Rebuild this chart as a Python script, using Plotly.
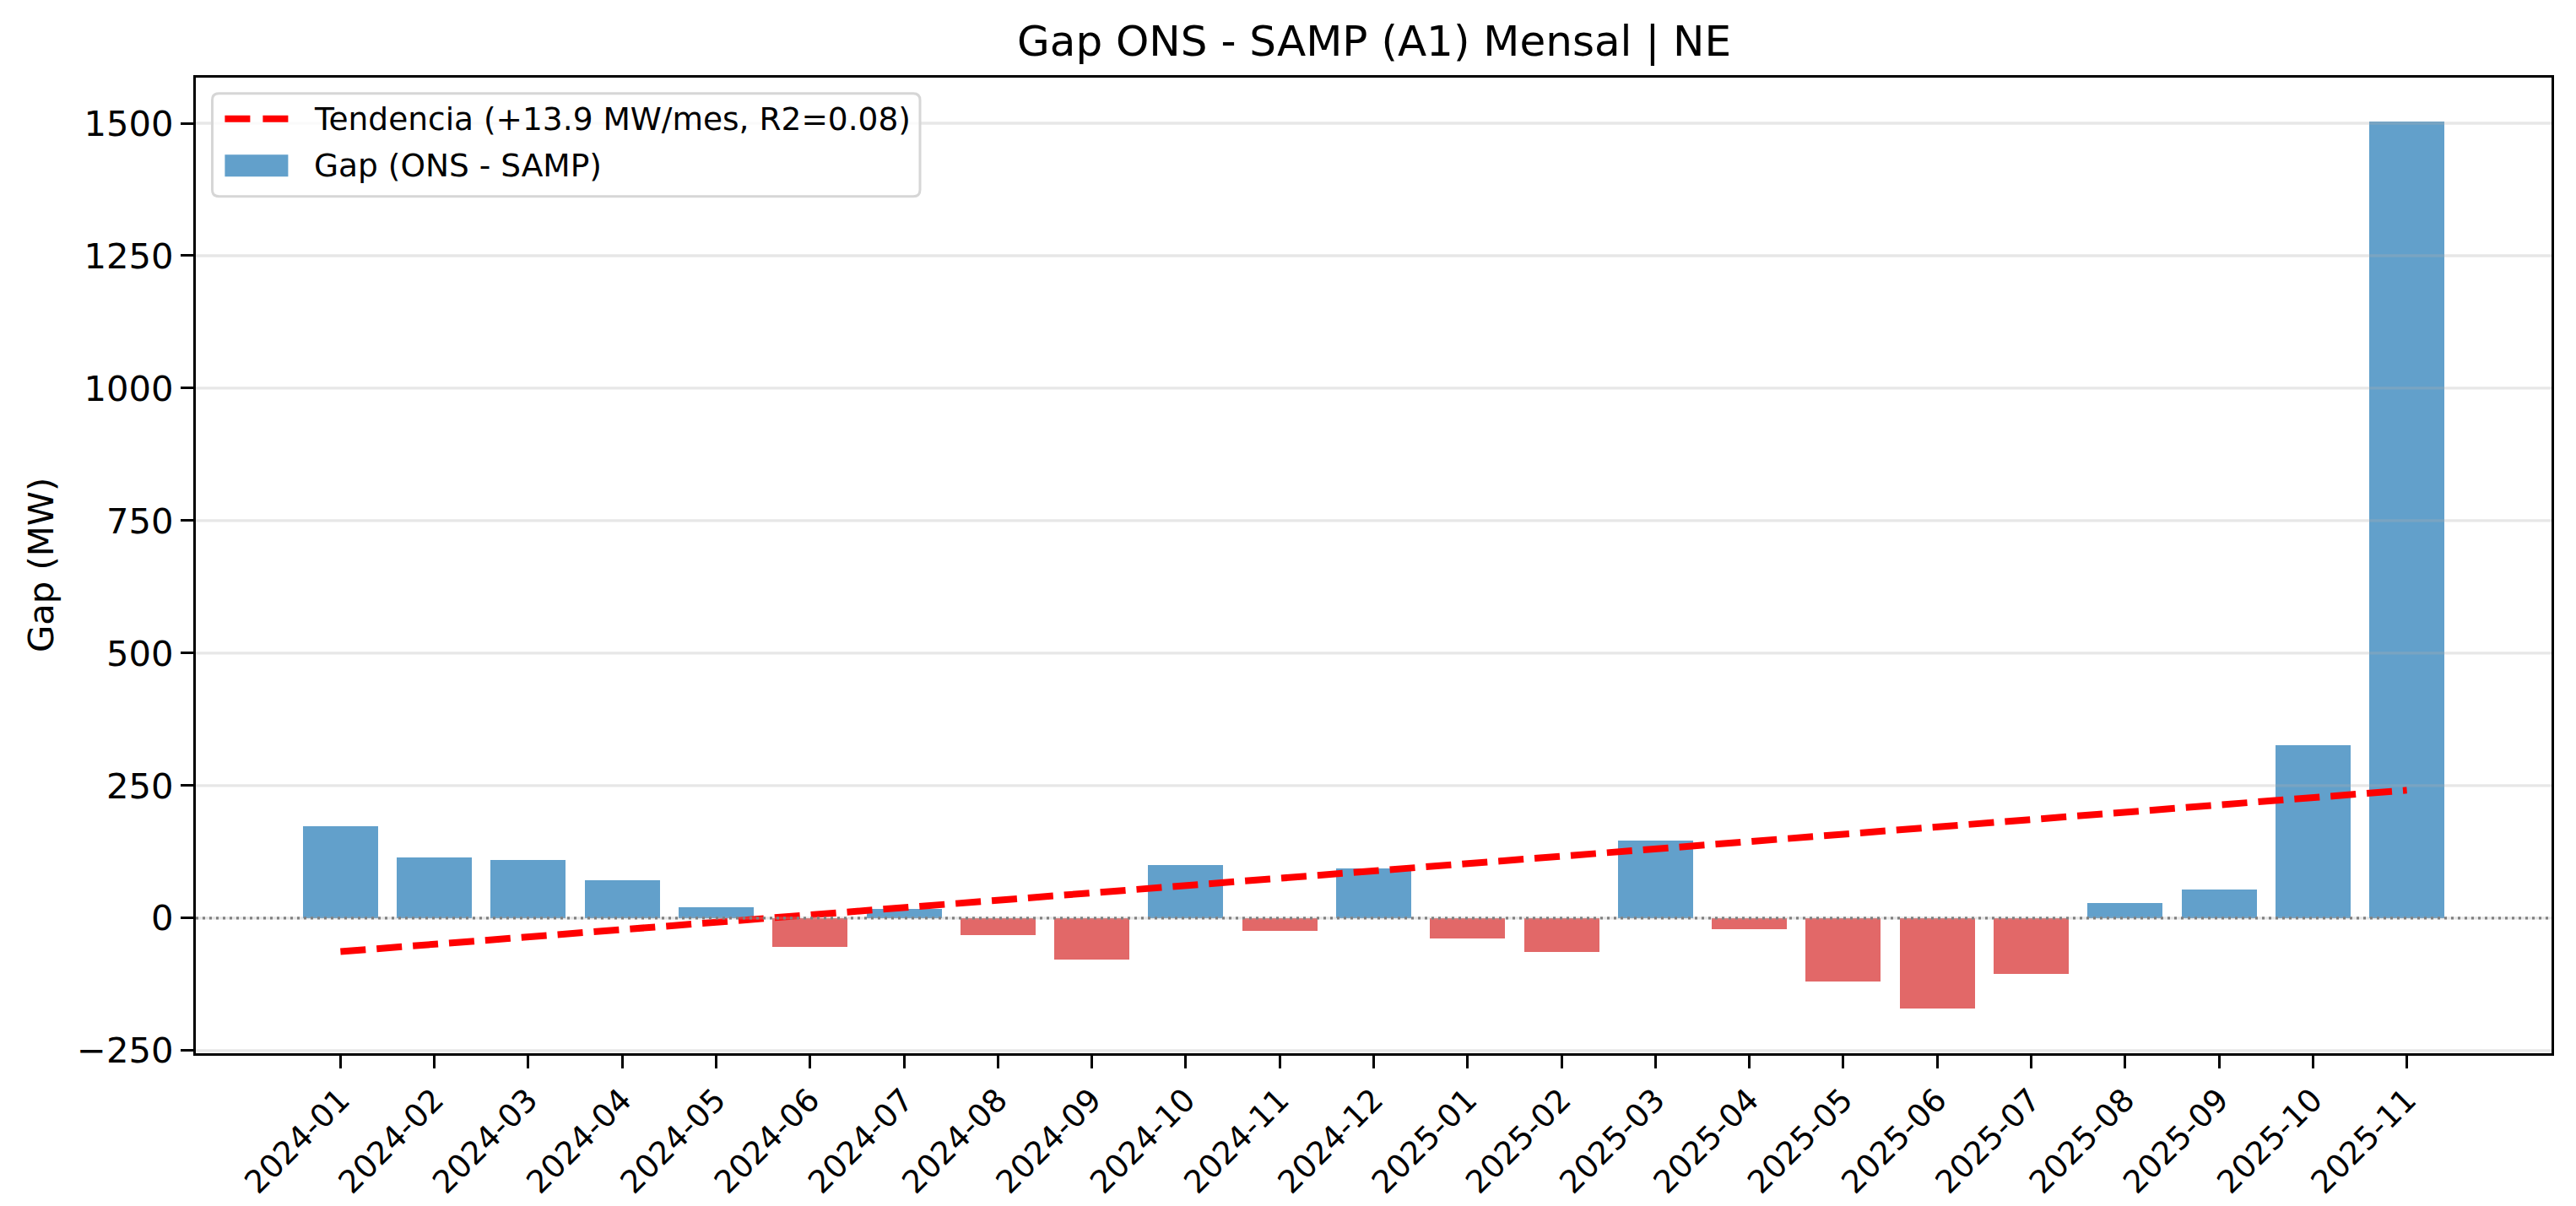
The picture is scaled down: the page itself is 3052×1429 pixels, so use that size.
import numpy as np
import plotly.graph_objects as go

# ---- data ----
months = ["2024-01", "2024-02", "2024-03", "2024-04", "2024-05", "2024-06",
          "2024-07", "2024-08", "2024-09", "2024-10", "2024-11", "2024-12",
          "2025-01", "2025-02", "2025-03", "2025-04", "2025-05", "2025-06",
          "2025-07", "2025-08", "2025-09", "2025-10", "2025-11"]
gap = [174, 114, 110, 71, 20, -54, 17, -32, -78, 100, -24, 94,
       -39, -64, 146, -21, -120, -171, -106, 28, 54, 327, 1503]
y_ticks = [-250, 0, 250, 500, 750, 1000, 1250, 1500]
title_text = "Gap ONS - SAMP (A1) Mensal | NE"
trend_label = "Tendencia (+13.9 MW/mes, R2=0.08)"
bar_label = "Gap (ONS - SAMP)"
y_title = "Gap (MW)"

# ---- styling ----
W, H = 3052, 1429
L, R, T, B = 232, 29, 92, 181
BLUE = "rgb(98,160,203)"
RED = "rgb(226,104,104)"
FONT = "DejaVu Sans"
plot_h = H - T - B
plot_w = W - L - R


def px(xpix):
    return (xpix - L) / plot_w


def py(ypix):
    return 1 - (ypix - T) / plot_h


idx = np.arange(len(gap))
slope, intercept = np.polyfit(idx, np.array(gap, dtype=float), 1)
trend = slope * idx + intercept

colors = [BLUE if v >= 0 else RED for v in gap]

fig = go.Figure()
fig.add_trace(go.Bar(
    x=months, y=gap, width=0.8, marker=dict(color=colors, line=dict(width=0)),
    name=bar_label, showlegend=False,
))
fig.add_trace(go.Scatter(
    x=months, y=trend, mode="lines", name=trend_label, showlegend=False,
    line=dict(color="red", width=8, dash="30px,13px"),
))

shapes = []
for t in y_ticks:
    shapes.append(dict(type="line", xref="paper", yref="y", x0=0, x1=1, y0=t, y1=t,
                       line=dict(color="rgba(176,176,176,0.3)", width=3.3), layer="above"))
shapes.append(dict(type="line", xref="paper", yref="y", x0=0, x1=1, y0=0, y1=0,
                   line=dict(color="rgb(128,128,128)", width=3.3, dash="3px,5px"), layer="above"))

# ---- legend (drawn as a matplotlib-style frame) ----
bx0, bx1, by0, by1, rr = 251.5, 1090, 110.7, 232.7, 8
path = (f"M{px(bx0 + rr)},{py(by0)} L{px(bx1 - rr)},{py(by0)} "
        f"Q{px(bx1)},{py(by0)} {px(bx1)},{py(by0 + rr)} "
        f"L{px(bx1)},{py(by1 - rr)} Q{px(bx1)},{py(by1)} {px(bx1 - rr)},{py(by1)} "
        f"L{px(bx0 + rr)},{py(by1)} Q{px(bx0)},{py(by1)} {px(bx0)},{py(by1 - rr)} "
        f"L{px(bx0)},{py(by0 + rr)} Q{px(bx0)},{py(by0)} {px(bx0 + rr)},{py(by0)} Z")
shapes.append(dict(type="path", xref="paper", yref="paper", path=path,
                   fillcolor="rgba(255,255,255,0.8)",
                   line=dict(color="rgb(214,214,214)", width=3), layer="above"))
shapes.append(dict(type="line", xref="paper", yref="paper",
                   x0=px(266.4), x1=px(341.4), y0=py(140.7), y1=py(140.7),
                   line=dict(color="red", width=8, dash="30px,15px"), layer="above"))
shapes.append(dict(type="rect", xref="paper", yref="paper",
                   x0=px(266.4), x1=px(341.4), y0=py(183.3), y1=py(209.3),
                   fillcolor=BLUE, line=dict(width=0), layer="above"))

annotations = [
    dict(text=title_text, xref="paper", yref="paper", x=0.5, y=1 + 12 / plot_h,
         xanchor="center", yanchor="bottom", showarrow=False,
         font=dict(size=50, family=FONT)),
    dict(text=y_title, xref="paper", yref="paper", x=px(48), y=0.5,
         xanchor="center", yanchor="middle", textangle=-90, showarrow=False,
         font=dict(size=41.7, family=FONT)),
    dict(text=trend_label, xref="paper", yref="paper", x=px(370), y=py(140.7),
         xanchor="left", yanchor="middle", showarrow=False,
         font=dict(size=37.5, family=FONT)),
    dict(text=bar_label, xref="paper", yref="paper", x=px(370), y=py(196.3),
         xanchor="left", yanchor="middle", showarrow=False,
         font=dict(size=37.5, family=FONT)),
]

fig.update_layout(
    width=W, height=H,
    margin=dict(l=L, r=R, t=T, b=B, autoexpand=False),
    paper_bgcolor="white", plot_bgcolor="white",
    font=dict(family=FONT, color="black"),
    showlegend=False,
    bargap=0,
    shapes=shapes,
    annotations=annotations,
)
fig.update_xaxes(
    type="category", range=[-1.54, 23.54],
    showgrid=False, zeroline=False,
    showline=True, linecolor="black", linewidth=3.3, mirror=True,
    ticks="outside", ticklen=15, tickwidth=3.3, tickcolor="black",
    tickangle=-45, tickfont=dict(size=37.5, family=FONT),
)
fig.update_yaxes(
    range=[-255, 1586], tickvals=y_ticks,
    showgrid=False, zeroline=False,
    showline=True, linecolor="black", linewidth=3.3, mirror=True,
    ticks="outside", ticklen=15, tickwidth=3.3, tickcolor="black",
    tickfont=dict(size=41.7, family=FONT),
)

fig.write_html("out.html", config={"displayModeBar": False},
               post_script="document.body.style.margin='0px';")
